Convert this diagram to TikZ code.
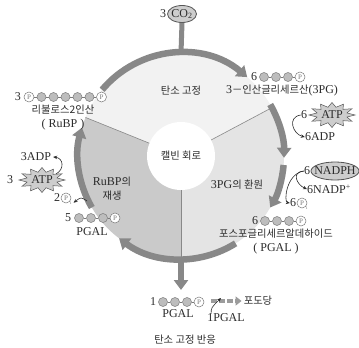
\documentclass[tikz,border=0pt]{standalone}
\usepackage{fontspec}
\setmainfont{Liberation Serif}
\newfontfamily\krfam{Noto Sans CJK KR}
\usetikzlibrary{arrows.meta,shapes.geometric}
\definecolor{ringgray}{HTML}{888888}
\definecolor{topfill}{HTML}{F2F2F2}
\definecolor{rightfill}{HTML}{E4E4E4}
\definecolor{leftfill}{HTML}{CACACA}
\definecolor{txt}{HTML}{2B2B2B}
\definecolor{iconfill}{HTML}{BDBDBD}
\definecolor{iconline}{HTML}{7A7A7A}
\definecolor{molfill}{HTML}{CDCDCD}
\definecolor{molline}{HTML}{555555}
\definecolor{dashgray}{HTML}{9C9C9C}
\newcommand\latf{\fontsize{12}{14}\selectfont}
\newcommand\krf{\krfam\fontsize{10.3}{12}\selectfont}
\newcommand\pchain[4]{%
  \foreach \k [remember=\k as \lastk (initially 0)] in {1,...,#4}{%
    \node[carb] (#1-\k) at ({#2+(\k-1)*12},#3) {};
    \ifnum\k>1 \draw[chainline] (#1-\lastk) -- (#1-\k);\fi
  }%
  \node[phos] (#1-p) at ({#2+#4*12},#3) {P};
  \draw[chainline] (#1-#4) -- (#1-p);
}
\newcommand\drawburst[1]{%
  \draw[burstfill] ([shift={(0:23 and 12.5)}]#1)
    \foreach \a [count=\i, evaluate=\i as \rx using {mod(\i,2)==1 ? 15.5 : 23}, evaluate=\i as \ry using {mod(\i,2)==1 ? 8 : 12.5}] in {15,30,...,345}{ -- ([shift={(\a:\rx pt and \ry pt)}]#1) } -- cycle;
}
\begin{document}
\begin{tikzpicture}[x=1pt,y=-1pt,
  every node/.style={text=txt, inner sep=0pt, font=\latf},
  ring/.style={draw=ringgray, line width=6.5pt, -{Triangle[width=14pt,length=10pt]}},
  divider/.style={draw=ringgray, line width=0.6pt},
  carb/.style={circle, fill=iconfill, draw=iconline, line width=0.5pt, minimum size=9pt},
  phos/.style={circle, fill=white, draw=iconline, line width=0.5pt, minimum size=10pt, text=iconline, font=\fontsize{7}{7}\selectfont},
  chainline/.style={draw=iconline, line width=0.6pt},
  burstfill/.style={fill=molfill, draw=molline, line width=0.5pt, line join=miter},
  molell/.style={ellipse, fill=molfill, draw=molline, line width=0.8pt, inner sep=-8pt},
  thinarr/.style={draw=txt, line width=0.6pt, -{Stealth[length=4pt,width=3.5pt]}},
  subi/.style={font=\fontsize{5}{5}\selectfont, text=iconline}
]
\useasboundingbox (0,0) rectangle (359,348);
\coordinate (C) at (181,156);
% sectors
\fill[topfill] (C) -- ([shift={(-158:103)}]C) arc[start angle=-158, end angle=-28, radius=103] -- cycle;
\fill[rightfill] (C) -- ([shift={(-28:103)}]C) arc[start angle=-28, end angle=90, radius=103] -- cycle;
\fill[leftfill] (C) -- ([shift={(90:103)}]C) arc[start angle=90, end angle=202, radius=103] -- cycle;
\node[circle, fill=white, minimum size=68pt, font=\krf] (calvin) at (C) {캘빈 회로};
\coordinate (divL) at ([shift={(-158:103)}]C);
\coordinate (divR) at ([shift={(-28:103)}]C);
\coordinate (divB) at ([shift={(90:103)}]C);
\draw[divider] (calvin.158) -- (divL);
\draw[divider] (calvin.28) -- (divR);
\draw[divider] (calvin.south) -- (divB);
% ring arrows
\draw[ring] ([shift={(-140:103)}]C) arc[start angle=-140, end angle=-50, radius=103];
\draw[ring] ([shift={(-30:103)}]C) arc[start angle=-30, end angle=1, radius=103];
\draw[ring] ([shift={(5:103)}]C) arc[start angle=5, end angle=30, radius=103];
\draw[ring] ([shift={(58:103)}]C) arc[start angle=58, end angle=127, radius=103];
\draw[ring] ([shift={(150:103)}]C) arc[start angle=150, end angle=196, radius=103];
\coordinate (ringtop) at ([shift={(-90:103)}]C);
\coordinate (downend) at (181,290);
\draw[ring] (divB) -- (downend);
% CO2
\node (co2n) at (163,14) {3};
\node[molell, minimum width=29pt, minimum height=17pt] (co2) at (182,14) {CO\textsubscript{2}};
\draw[draw=ringgray, line width=5pt] (co2.south) -- (ringtop);
% sector labels
\node[font=\krf] (fixlbl) at (181,91) {탄소 고정};
\node (regen1) at (112,182) {RuBP{\krf 의}};
\node[font=\krf] (regen2) at (112,196) {재생};
\node (reduc) at (237,185) {3PG{\krf 의 환원}};
% RuBP
\node (rubp3) at (18,97) {3};
\node[phos] (rubp-p0) at (29,97) {P};
\pchain{rubp}{41.5}{97}{5}
\draw[chainline] (rubp-p0) -- (rubp-1);
\node[font=\krf] (rubpname) at (63,110) {리불로스2인산};
\node (rubpabbr) at (63,125) {( RuBP )};
% 3PG
\node (pg6) at (254,77) {6};
\pchain{pg}{264}{77}{3}
\node (pgname) at (282,91) {3{\krf －인산글리세르산}(3PG)};
% right side
\node (atp6n) at (304,115) {6};
\coordinate (atp6c) at (332,115);
\drawburst{atp6c}
\node (atp6) at (atp6c) {ATP};
\node (adp6) at (320,137) {6ADP};
\node (nadph6n) at (307,171) {6};
\node[molell, minimum width=48pt, minimum height=18pt] (nadph) at (335,171) {NADPH};
\node (nadp6) at (329,189) {6NADP\textsuperscript{+}};
\node (pi6n) at (293,203) {6};
\node[phos] (pi6) at (302,203) {P};
\node[subi] (pi6i) at ([xshift=1pt,yshift=-1pt]pi6.south east) {i};
\node (pgal6n) at (255,221) {6};
\pchain{pgsix}{265}{221}{3}
\node[font=\krf] (pgalname) at (276,234) {포스포글리세르알데하이드};
\node (pgalabbr) at (276,249) {( PGAL )};
\draw[thinarr] (atp6n.west) .. controls +(-14,2) and +(-12,-3) .. (adp6.west);
\draw[thinarr] (nadph6n.west) .. controls +(-13,1) and +(-10,-4) .. (nadp6.west);
\draw[thinarr] (nadph6n.west) .. controls +(-18,3) and +(-6,-1) .. (pi6n.west);
% left side
\node (adp3) at (36,157) {3ADP};
\node (atp3n) at (10,180) {3};
\coordinate (atp3c) at (42,180);
\drawburst{atp3c}
\node (atp3) at (atp3c) {ATP};
\node (pi2n) at (57,198) {2};
\node[phos] (pi2) at (66,198) {P};
\node[subi] (pi2i) at ([xshift=1pt,yshift=-1pt]pi2.south east) {i};
\node (pgal5n) at (68,218) {5};
\pchain{pgfive}{79}{218}{3}
\node (pgal5) at (92,232) {PGAL};
\draw[thinarr] ([shift={(14,-6)}]atp3c) .. controls +(9,-5) and +(10,1) .. ([xshift=2pt]adp3.east);
\coordinate (pi2src) at (87,201);
\draw[thinarr] (pi2src) .. controls +(-6,-4) .. ([xshift=2pt]pi2i.east);
% bottom
\node (pgal1n) at (153,302) {1};
\pchain{pgone}{163}{302}{3}
\node (pgal1) at (178,314) {PGAL};
\node[font=\krf] (glucose) at (258,301) {포도당};
\coordinate (dashstart) at (211,301);
\draw[draw=dashgray, line width=4pt, dash pattern=on 6pt off 2pt, -{Triangle[width=9pt,length=6pt]}] (dashstart) -- ([xshift=-2pt]glucose.west);
\node (pgal1b) at (226,318) {1PGAL};
\draw[thinarr] ([xshift=4pt]pgal1b.north west) .. controls +(0,-6) .. ([xshift=10pt,yshift=3pt]dashstart);
\node[font=\krf] (title) at (185,340) {탄소 고정 반응};
\end{tikzpicture}
\end{document}
